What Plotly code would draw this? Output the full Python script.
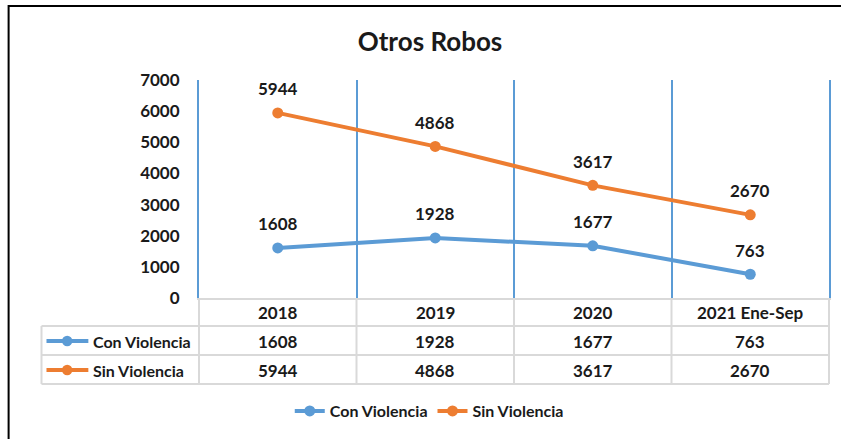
import plotly.graph_objects as go

categories = ["2018", "2019", "2020", "2021 Ene-Sep"]
series_names = ["Con Violencia", "Sin Violencia"]
con_violencia = [1608, 1928, 1677, 763]
sin_violencia = [5944, 4868, 3617, 2670]
y_ticks = [0, 1000, 2000, 3000, 4000, 5000, 6000, 7000]

BLUE = "#5B9BD5"
ORANGE = "#ED7D31"
GRID = "#D9D9D9"
TXT = "#1a1a1a"
FONT = "Lato"
FS = 17

W, H = 841, 439
L, R, T, B = 199, 10, 80, 141
PW = W - L - R
PH = H - T - B


def px(x):
    return (x - L) / PW


def py(y):
    return (H - B - y) / PH


xs = list(range(len(categories)))
series = [(series_names[0], con_violencia, BLUE), (series_names[1], sin_violencia, ORANGE)]

fig = go.Figure()
for name, vals, color in series:
    fig.add_trace(go.Scatter(
        x=xs, y=vals, name=name, mode="lines+markers",
        line=dict(color=color, width=4),
        marker=dict(color=color, size=11),
        hoverinfo="skip",
    ))

annotations = []
# point labels
for name, vals, color in series:
    for i, v in enumerate(vals):
        annotations.append(dict(
            x=i, y=v, xref="x", yref="y", text="<b>%d</b>" % v, showarrow=False,
            xanchor="center", yanchor="middle", yshift=24,
            font=dict(size=FS, color=TXT, family=FONT)))

# data table
shapes = []
ncol = len(categories)
row_lines = [326, 355, 384]
for yl in row_lines:
    shapes.append(dict(type="line", xref="paper", yref="paper", x0=-1 / ncol, x1=1,
                       y0=py(yl), y1=py(yl), line=dict(color=GRID, width=2)))
for k in range(ncol + 1):
    shapes.append(dict(type="line", xref="paper", yref="paper", x0=k / ncol, x1=k / ncol,
                       y0=py(298), y1=py(384), line=dict(color=GRID, width=2)))
shapes.append(dict(type="line", xref="paper", yref="paper", x0=-1 / ncol, x1=-1 / ncol,
                   y0=py(326), y1=py(384), line=dict(color=GRID, width=2)))

header_mid = 312
row_mids = [341, 370]
for i, c in enumerate(categories):
    annotations.append(dict(x=(i + 0.5) / ncol, y=py(header_mid), xref="paper", yref="paper",
                            xanchor="center", yanchor="middle", text="<b>%s</b>" % c,
                            showarrow=False, font=dict(size=FS, color=TXT, family=FONT)))
for r, (name, vals, color) in enumerate(series):
    ym = py(row_mids[r])
    shapes.append(dict(type="line", xref="paper", yref="paper", x0=px(46), x1=px(88),
                       y0=ym, y1=ym, line=dict(color=color, width=4)))
    shapes.append(dict(type="circle", xref="paper", yref="paper", x0=px(61.5), x1=px(72),
                       y0=py(row_mids[r] + 5.2), y1=py(row_mids[r] - 5.2),
                       fillcolor=color, line=dict(color=color, width=0)))
    annotations.append(dict(x=px(91), y=ym, xref="paper", yref="paper", xanchor="left",
                            yanchor="middle", text="<b>%s</b>" % name, showarrow=False,
                            font=dict(size=16, color=TXT, family=FONT)))
    for i, v in enumerate(vals):
        annotations.append(dict(x=(i + 0.5) / ncol, y=ym, xref="paper", yref="paper",
                                xanchor="center", yanchor="middle", text="<b>%d</b>" % v,
                                showarrow=False, font=dict(size=FS, color=TXT, family=FONT)))

# outer border
shapes.append(dict(type="rect", xref="paper", yref="paper", x0=px(8), x1=px(860),
                   y0=py(460), y1=py(6), line=dict(color="black", width=2)))

fig.update_layout(
    width=W, height=H,
    margin=dict(l=L, r=R, t=T, b=B),
    paper_bgcolor="white", plot_bgcolor="white",
    font=dict(family=FONT, color=TXT, size=FS),
    title=dict(text="<b>Otros Robos</b>", xref="container", x=430 / W, xanchor="center",
               yref="container", y=1 - 42 / H, yanchor="middle",
               font=dict(size=26, color=TXT, family=FONT)),
    showlegend=True,
    legend=dict(orientation="h", x=px(430), xanchor="center", y=py(411), yanchor="middle",
                font=dict(size=16, color=TXT, family=FONT, weight="bold")),
    shapes=shapes,
    annotations=annotations,
)

fig.update_xaxes(range=[-0.5, ncol - 0.5], tickvals=[i + 0.5 for i in range(ncol - 1)],
                 showticklabels=False, ticks="", showgrid=True, gridcolor=BLUE, gridwidth=2,
                 showline=True, linecolor=GRID, linewidth=2, zeroline=False, fixedrange=True)
fig.update_yaxes(range=[0, 7000], tickvals=y_ticks, showgrid=False, zeroline=False,
                 showline=True, linecolor=BLUE, linewidth=2, mirror=True, ticks="",
                 ticklabelstandoff=14, tickfont=dict(size=FS, color=TXT, family=FONT, weight="bold"),
                 fixedrange=True)

fig.write_html("out.html", config={"displayModeBar": False},
               post_script="document.body.style.margin='0';")
